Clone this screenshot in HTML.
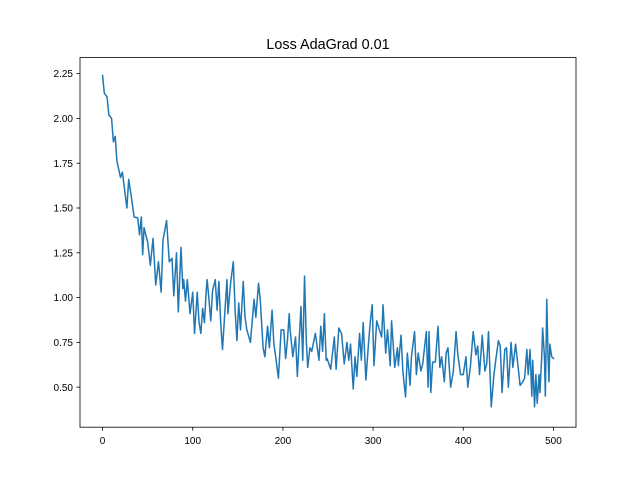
<!DOCTYPE html>
<html><head><meta charset="utf-8"><style>
html,body{margin:0;padding:0;background:#fff;}
svg{display:block;font-family:"Liberation Sans","DejaVu Sans",sans-serif;}
</style></head><body>
<svg id="chart" width="640" height="480" viewBox="0 0 640 480" xmlns="http://www.w3.org/2000/svg">
<rect width="640" height="480" fill="#fff"/>
<text x="328" y="49" text-anchor="middle" font-size="14.4" fill="#000">Loss AdaGrad 0.01</text>
<g id="plot"></g>
</svg>
<script>
const xTicks = [0, 100, 200, 300, 400, 500];
const yTicks = [0.50, 0.75, 1.00, 1.25, 1.50, 1.75, 2.00, 2.25];
const steps = [0,2,5,7,10,12,14,16,20,22,24,27,29,32,35,39,41,43,44.5,46,50,53,56,59,62,65,67,71,74,77,79,82,84,87,89,90,92,94,97,100,
102,105,107,109,111,113,115,116,118,120,122,125,127,129,131,133,136,138,139,142,145,147,149,151,153,156,158,160,164,168,170,173,175,178,180,183,185,188,190,192,195,198,201,203,
205,207,208,211,214,216,220,222,224,226,227.5,230,232,236,240,242,244,246,248,249,253,257,259,262,265,268,271,273,275,278,280,282,285,287,289,292,295,297,299,301,304,307,
309.5,311,314,316,319,320.5,322,324,327,328,331,333,336,338,341,342.5,346,348,350,353,355,359,361,362,364,366,369,372,374,376,379,381,383,386,389,392,394,397,400,403,405,408,411,414,
416,418,421,424,426,428,431,434,436,439,441,443,446,448,450,453,455,458,460,463,466,468,470.5,472,474,476,477,479,480.5,482,484,485,487,488,490,491,492.6,494,495,496,498,500];
const loss = [2.24,2.14,2.12,2.02,2.0,1.87,1.90,1.76,1.67,1.70,1.62,1.50,1.66,1.56,1.45,1.445,1.35,1.45,1.24,1.39,1.31,1.18,1.33,1.07,1.20,1.03,1.32,1.43,1.20,1.22,1.01,1.25,0.92,1.28,1.05,1.10,0.98,1.10,0.91,1.03,
0.80,1.03,0.86,0.80,0.94,0.86,1.04,1.10,0.99,0.87,1.04,1.10,0.93,1.09,0.86,0.71,0.95,1.10,0.91,1.08,1.20,0.93,0.76,0.97,0.82,1.09,0.89,0.82,0.75,0.99,0.89,1.08,0.98,0.72,0.67,0.84,0.72,0.93,0.74,0.67,0.55,0.82,0.82,0.66,
0.76,0.91,0.82,0.67,0.78,0.56,0.95,0.65,1.12,0.75,0.61,0.72,0.70,0.80,0.65,0.84,0.70,0.91,0.65,0.66,0.60,0.78,0.60,0.83,0.80,0.63,0.75,0.65,0.74,0.49,0.67,0.56,0.80,0.65,0.86,0.54,0.75,0.87,0.96,0.62,0.87,0.82,
0.78,0.96,0.69,0.82,0.62,0.87,0.76,0.61,0.72,0.62,0.79,0.59,0.445,0.69,0.51,0.67,0.81,0.57,0.69,0.59,0.63,0.81,0.50,0.81,0.47,0.64,0.64,0.84,0.61,0.67,0.53,0.69,0.72,0.50,0.59,0.81,0.68,0.57,0.57,0.67,0.50,0.62,0.81,0.68,
0.73,0.57,0.79,0.59,0.63,0.81,0.39,0.57,0.65,0.76,0.73,0.47,0.71,0.72,0.50,0.75,0.61,0.74,0.65,0.51,0.53,0.55,0.71,0.57,0.71,0.45,0.65,0.39,0.57,0.41,0.57,0.47,0.67,0.83,0.67,0.45,0.99,0.67,0.53,0.74,0.67,0.66];

const L=80, R=576, T=57.6, B=427.2;
const xMin=-25, xMax=525, yMin=0.2765, yMax=2.3395;
const sx = v => L + (v - xMin) / (xMax - xMin) * (R - L);
const sy = v => B - (v - yMin) / (yMax - yMin) * (B - T);
const NS="http://www.w3.org/2000/svg";
const g=document.getElementById('plot');
function mk(tag, attrs){const e=document.createElementNS(NS,tag);for(const k in attrs)e.setAttribute(k,attrs[k]);g.appendChild(e);return e;}

let d = steps.map((s,i)=>(i?'L':'M')+sx(s).toFixed(2)+','+sy(loss[i]).toFixed(2)).join('');
const line = mk('path',{d:d,fill:'none',stroke:'#1f77b4','stroke-width':1.5,'stroke-linejoin':'round','stroke-linecap':'square'});



xTicks.forEach(t=>{
  const x=sx(t);
  const tk=mk('line',{x1:x,x2:x,y1:B,y2:B+3.5,stroke:'#000','stroke-width':0.8});
  
  
  const lb=mk('text',{x:x,y:B+17,'text-anchor':'middle','font-size':10,fill:'#000'});
  lb.textContent=t;
  
  
});
yTicks.forEach(t=>{
  const y=sy(t);
  const tk=mk('line',{x1:L-3.5,x2:L,y1:y,y2:y,stroke:'#000','stroke-width':0.8});
  
  
  const lb=mk('text',{x:L-7,y:y+3.6,'text-anchor':'end','font-size':10,fill:'#000'});
  lb.textContent=t.toFixed(2);
  
  
});
const frame=mk('rect',{x:L,y:T,width:R-L,height:B-T,fill:'none',stroke:'#000','stroke-width':0.8});


</script>
</body></html>
